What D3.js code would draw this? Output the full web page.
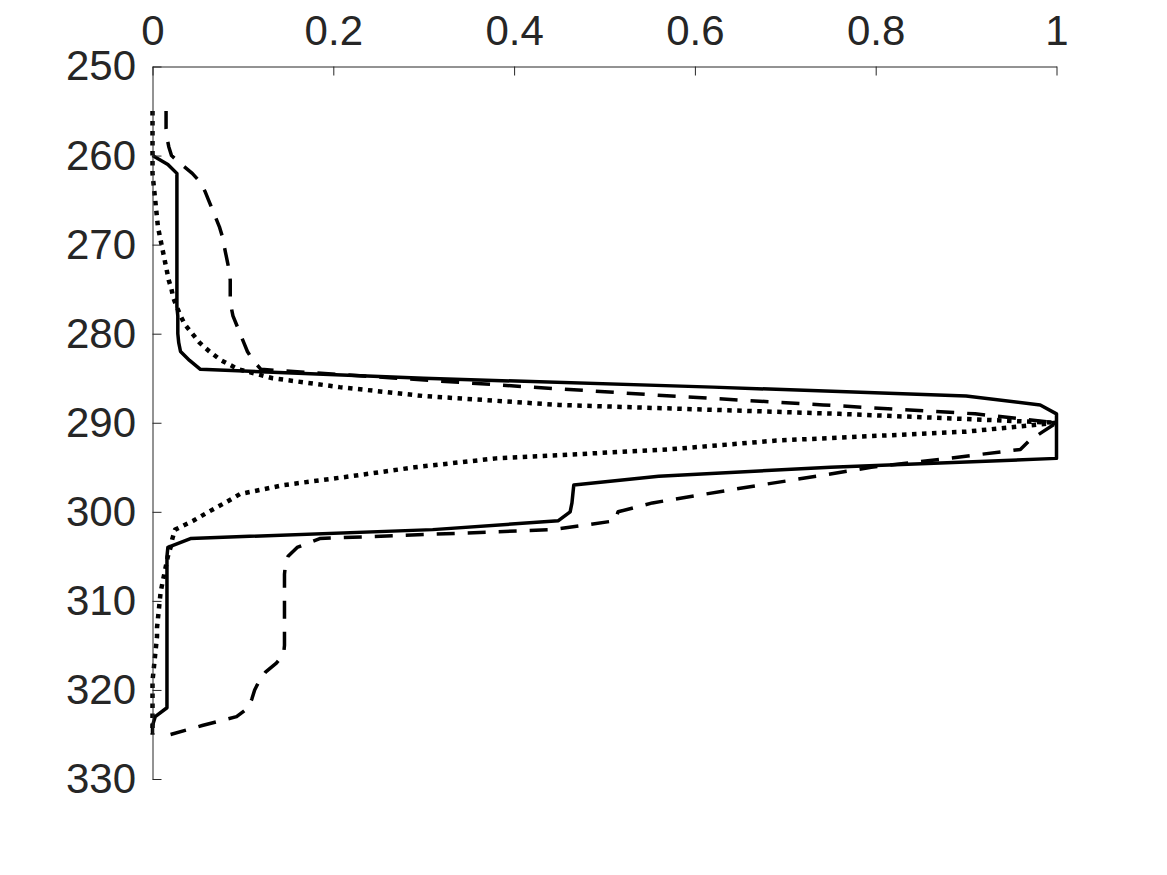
<!DOCTYPE html>
<html>
<head>
<meta charset="utf-8">
<script src="https://cdn.jsdelivr.net/npm/d3@7"></script>
<style>
    body { margin: 0; background: #fff; }
    svg { display: block; }
</style>
</head>
<body>
<svg id="chart"></svg>
<script>
const depth = [255, 256, 257, 258, 259, 260, 261, 262, 263, 264, 265, 266, 267, 268, 269, 270,
    271, 272, 273, 274, 275, 276, 277, 278, 279, 280, 281, 282, 283, 284, 285, 286, 287, 288, 289, 290,
    291, 292, 293, 294, 295, 296, 297, 298, 299, 300, 301, 302, 303, 304, 305, 306, 307, 308, 309, 310,
    311, 312, 313, 314, 315, 316, 317, 318, 319, 320, 321, 322, 323, 324, 325];

// solid profile, nothing drawn above 260
const solidValues = [null, null, null, null, null, 0, 0.017, 0.027, 0.027, 0.027, 0.027, 0.027, 0.027, 0.027, 0.027, 0.027,
    0.027, 0.027, 0.027, 0.027, 0.027, 0.027, 0.027, 0.028, 0.028, 0.028, 0.029, 0.031, 0.041, 0.053, 0.30, 0.62, 0.90, 0.982, 1.0, 1.0,
    1.0, 1.0, 1.0, 1.0, 0.75, 0.56, 0.466, 0.465, 0.464, 0.462, 0.449, 0.31, 0.042, 0.017, 0.016, 0.016, 0.016, 0.016, 0.016, 0.016,
    0.016, 0.016, 0.016, 0.016, 0.016, 0.016, 0.016, 0.016, 0.016, 0.016, 0.016, 0.016, 0.003, 0, 0];

const dashedValues = [0.015, 0.015, 0.015, 0.016, 0.018, 0.021, 0.032, 0.044, 0.053, 0.058, 0.062, 0.066, 0.07, 0.074, 0.077, 0.079,
    0.081, 0.083, 0.085, 0.086, 0.086, 0.086, 0.087, 0.089, 0.093, 0.097, 0.101, 0.105, 0.111, 0.12, 0.27, 0.42, 0.574, 0.742, 0.91, 1.0,
    0.985, 0.97, 0.96, 0.88, 0.795, 0.735, 0.672, 0.612, 0.553, 0.515, 0.512, 0.443, 0.185, 0.16, 0.15, 0.147, 0.146, 0.146, 0.146, 0.146,
    0.146, 0.146, 0.146, 0.146, 0.146, 0.145, 0.137, 0.125, 0.118, 0.113, 0.11, 0.106, 0.093, 0.055, 0.02];

const dottedValues = [0, 0, 0, 0, 0, 0, 0, 0, 0.001, 0.002, 0.003, 0.004, 0.005, 0.006, 0.008, 0.01,
    0.012, 0.014, 0.016, 0.018, 0.021, 0.023, 0.027, 0.031, 0.036, 0.044, 0.052, 0.063, 0.076, 0.095, 0.133, 0.207, 0.30, 0.45, 0.76, 1.0,
    0.9, 0.69, 0.57, 0.38, 0.29, 0.22, 0.145, 0.097, 0.08, 0.062, 0.045, 0.025, 0.022, 0.02, 0.017, 0.015, 0.013, 0.011, 0.009, 0.008,
    0.007, 0.006, 0.005, 0.005, 0.004, 0.003, 0.002, 0.001, 0, 0, 0, 0, 0, 0, 0];

const xTicks = [0, 0.2, 0.4, 0.6, 0.8, 1];
const yTicks = [250, 260, 270, 280, 290, 300, 310, 320, 330];

const series = [
    { values: solidValues, dash: null, width: 3.5 },
    { values: dashedValues, dash: "18,13", width: 3.5 },
    { values: dottedValues, dash: "4.5,5.5", width: 4.5 }
];

const margin = { top: 66.5, left: 152.5 };
const width = 904, height = 712.5;
const axisColor = "#262626";

const svg = d3.select("#chart")
    .attr("width", 1167)
    .attr("height", 875);

svg.append("rect")
    .attr("width", 1167)
    .attr("height", 875)
    .attr("fill", "#fff");

const xScale = d3.scaleLinear().domain([0, 1]).range([0, width]);
const yScale = d3.scaleLinear().domain([250, 330]).range([0, height]);

const container = svg.append("g")
    .attr("transform", `translate(${margin.left}, ${margin.top})`);

const line = d3.line()
    .defined(d => d.x != null)
    .x(d => xScale(d.x))
    .y(d => yScale(d.y));

series.forEach(s => {
    const points = depth.map((y, i) => ({ y: y, x: s.values[i] }));
    container.append("path")
        .datum(points)
        .attr("fill", "none")
        .attr("stroke", "#000")
        .attr("stroke-width", s.width)
        .attr("stroke-linejoin", "round")
        .attr("stroke-dasharray", s.dash)
        .attr("d", line);
});

const xAxis = container.append("g")
    .call(d3.axisTop(xScale)
        .tickValues(xTicks)
        .tickFormat(d3.format("~g"))
        .tickSizeInner(-9)
        .tickSizeOuter(0)
        .tickPadding(21.5));

const yAxis = container.append("g")
    .call(d3.axisLeft(yScale)
        .tickValues(yTicks)
        .tickSizeInner(-9)
        .tickSizeOuter(0)
        .tickPadding(16.5));

[xAxis, yAxis].forEach(axis => {
    axis.attr("font-family", "'Liberation Sans', Arial, Helvetica, sans-serif")
        .attr("font-size", 42);
    axis.select(".domain").attr("stroke", axisColor).attr("stroke-width", 1);
    axis.selectAll(".tick line").attr("stroke", axisColor);
    axis.selectAll(".tick text").attr("fill", axisColor);
});
</script>
</body>
</html>
